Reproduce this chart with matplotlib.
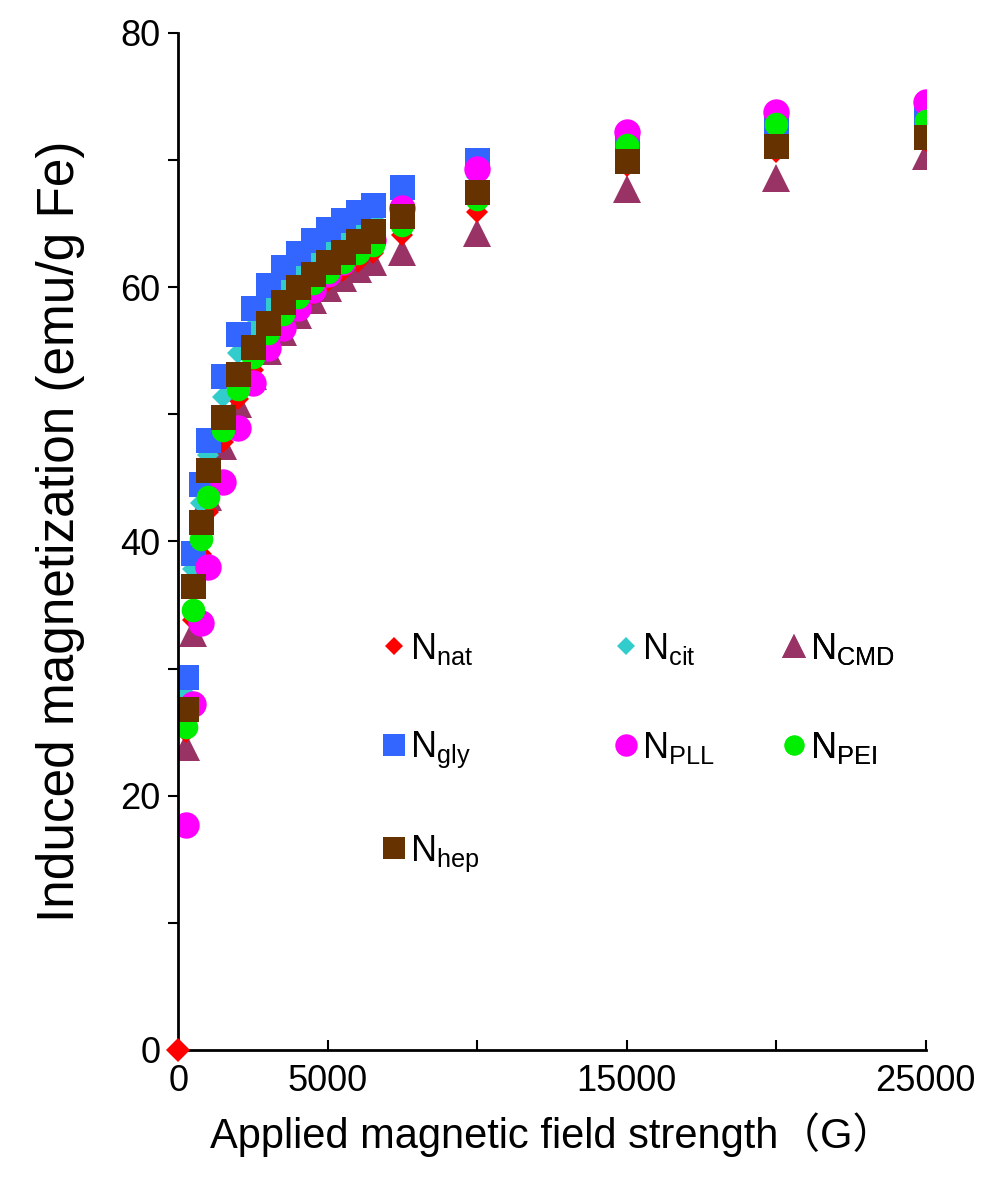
import numpy as np
import matplotlib
matplotlib.use("Agg")
import matplotlib.pyplot as plt

plt.rcParams['font.family'] = ['Liberation Sans', 'Noto Sans CJK SC', 'DejaVu Sans']
plt.rcParams['mathtext.fontset'] = 'custom'
plt.rcParams['mathtext.rm'] = 'Liberation Sans'
plt.rcParams['mathtext.it'] = 'Liberation Sans'

# field strength (G) shared by all series
field = [250, 500, 750, 1000, 1500, 2000, 2500, 3000, 3500, 4000,
         4500, 5000, 5500, 6000, 6500, 7500, 10000, 15000, 20000, 25000]

# induced magnetization (emu/g Fe)
m_nat = [25.0, 33.8, 39.0, 42.3, 47.8, 51.2, 53.5, 55.5, 57.0, 58.3,
         59.5, 60.5, 61.3, 62.0, 62.7, 64.1, 65.9, 69.5, 70.6, 71.5]
m_cit = [27.9, 37.8, 43.0, 46.8, 51.4, 54.8, 56.9, 58.7, 60.2, 61.3,
         62.3, 63.3, 64.0, 64.7, 65.4, 66.7, 68.7, 71.3, 72.7, 73.2]
m_cmd = [23.8, 32.8, 38.5, 43.5, 47.5, 50.8, 53.0, 55.0, 56.5, 57.8,
         59.0, 59.9, 60.7, 61.4, 62.0, 62.8, 64.3, 67.7, 68.6, 70.3]
m_gly = [29.3, 39.1, 44.5, 48.0, 53.0, 56.3, 58.4, 60.2, 61.6, 62.7,
         63.7, 64.6, 65.3, 65.9, 66.5, 67.9, 70.0, 71.5, 72.9, 73.4]
m_pll = [17.7, 27.2, 33.6, 38.0, 44.7, 48.9, 52.5, 55.2, 56.8, 58.4,
         59.8, 61.0, 62.0, 62.9, 63.7, 66.2, 69.3, 72.2, 73.8, 74.6]
m_pei = [25.4, 34.6, 40.2, 43.5, 48.8, 52.0, 54.5, 56.4, 57.9, 59.2,
         60.3, 61.2, 62.0, 62.7, 63.3, 64.9, 66.9, 71.2, 72.8, 73.1]
m_hep = [26.8, 36.5, 41.5, 45.6, 49.8, 53.2, 55.3, 57.2, 58.8, 60.0,
         61.0, 62.0, 62.8, 63.6, 64.4, 65.6, 67.5, 69.9, 71.1, 71.8]

labels = [r'N$_{\rm nat}$', r'N$_{\rm cit}$', r'N$_{\rm CMD}$', r'N$_{\rm gly}$',
          r'N$_{\rm PLL}$', r'N$_{\rm PEI}$', r'N$_{\rm hep}$']

fig = plt.figure(figsize=(9.9, 11.77), dpi=100)
ax = fig.add_axes([0.18, 0.108, 0.755, 0.864])

# (label, y, marker, size, colour) drawn bottom to top
series = [
    (labels[2], m_cmd, '^', 20, '#993366'),
    (labels[0], m_nat, 'D', 11, '#ff0000'),
    (labels[1], m_cit, 'D', 11, '#33cccc'),
    (labels[3], m_gly, 's', 18, '#3366ff'),
    (labels[4], m_pll, 'o', 19, '#ff00ff'),
    (labels[5], m_pei, 'o', 17, '#00ee00'),
    (labels[6], m_hep, 's', 18, '#663300'),
]
handles = {}
for lab, y, mk, ms, col in series:
    h, = ax.plot(field, y, linestyle='none', marker=mk, markersize=ms,
                 color=col, markeredgewidth=0, label=lab)
    handles[lab] = h

# origin point of the native particles sits on the axes corner
ax.plot([0], [0], linestyle='none', marker='D', markersize=12,
        color='#ff0000', markeredgewidth=0, clip_on=False, zorder=5)

ax.set_xlim(0, 25000)
ax.set_ylim(0, 80)
for s in ['top', 'right']:
    ax.spines[s].set_visible(False)
for s in ['left', 'bottom']:
    ax.spines[s].set_linewidth(2)

ax.set_xticks([0, 5000, 10000, 15000, 20000, 25000])
ax.set_xticklabels(['0', '5000', '', '15000', '', '25000'])
ax.set_yticks([0, 20, 40, 60, 80])
ax.set_yticks([10, 30, 50, 70], minor=True)
ax.tick_params(axis='x', direction='in', length=7, width=1.5, labelsize=26, pad=10)
ax.tick_params(axis='y', which='both', direction='out', length=7, width=1.5,
               labelsize=26, pad=6)

ax.set_xlabel('Applied magnetic field strength（G）', fontsize=30, labelpad=10)
ax.set_ylabel('Induced magnetization (emu/g Fe)', fontsize=37, labelpad=12)
ax.yaxis.set_label_coords(-0.125, 0.51)

# legend laid out as three separate columns
cols = [
    ([labels[0], labels[3], labels[6]], 0.25),
    ([labels[1], labels[4]], 0.56),
    ([labels[2], labels[5]], 0.785),
]
for names, xpos in cols:
    leg = ax.legend([handles[n] for n in names], names, loc='upper left',
                    bbox_to_anchor=(xpos, 0.43), frameon=False, fontsize=26,
                    handlelength=0.6, handletextpad=0.15, labelspacing=1.75,
                    markerscale=0.85, borderpad=0)
    ax.add_artist(leg)

fig.savefig('out.png', dpi=100)
